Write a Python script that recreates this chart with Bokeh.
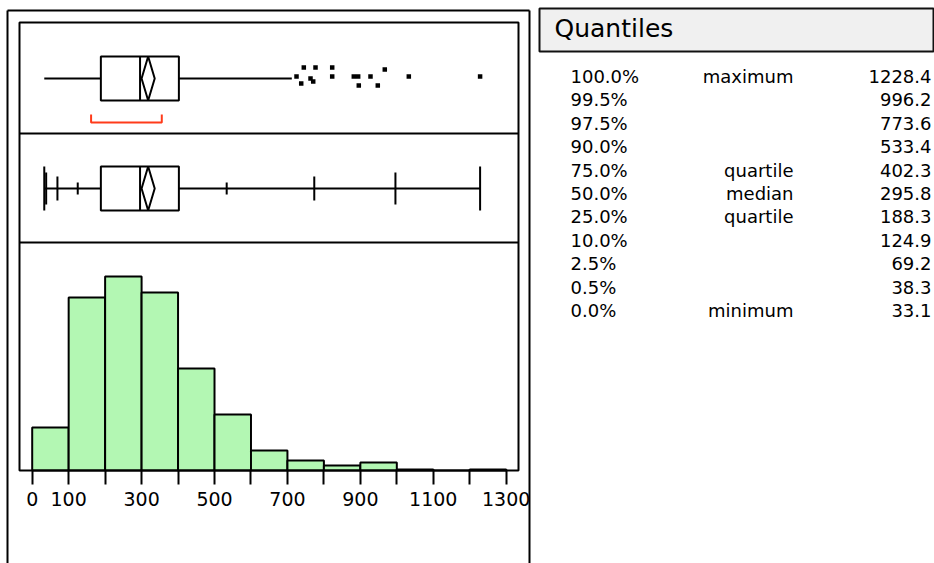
import numpy as np
from bokeh.plotting import figure
from bokeh.models import Range1d, LinearAxis, FixedTicker, ColumnDataSource
from bokeh.embed import file_html
from bokeh.resources import INLINE
from bokeh.core.properties import value

# ---------------- data ----------------
bin_edges = [0, 100, 200, 300, 400, 500, 600, 700, 800, 900, 1000, 1100, 1200, 1300]
bin_counts = [43, 173, 194, 178, 102, 56, 20, 10, 5, 8, 1, 0, 1]

q_levels = ["100.0%", "99.5%", "97.5%", "90.0%", "75.0%", "50.0%",
            "25.0%", "10.0%", "2.5%", "0.5%", "0.0%"]
q_names = ["maximum", "", "", "", "quartile", "median",
           "quartile", "", "", "", "minimum"]
q_values = [1228.4, 996.2, 773.6, 533.4, 402.3, 295.8, 188.3, 124.9, 69.2, 38.3, 33.1]

mean_value = 318.0
mean_ci_half = 18.0
shortest_half = [161.5, 355.4]
upper_adjacent = 712.0

outlier_values = [724.9, 737.8, 744.9, 763.3, 770.7, 777.0, 822.8, 822.8,
                  882.0, 894.0, 895.7, 927.8, 947.8, 967.0, 1032.9, 1228.4]
outlier_jitter = [-2, 5, -11, 0, 3, -11, -11, -2,
                  -2, -2, 7, -2, 7, -9, -2, -2]

axis_ticks = [0, 100, 200, 300, 400, 500, 600, 700, 800, 900, 1000, 1100, 1200, 1300]
axis_labels = ["0", "100", "", "300", "", "500", "", "700", "", "900", "", "1100", "", "1300"]

# ---------------- layout / style constants (screen pixels) ----------------
W, H = 934, 563
PX_ZERO = 31.7                 # screen x of value 0
PX_PER_UNIT = 0.36462          # screen px per data unit
BASE_Y = 470                   # histogram baseline
PX_PER_COUNT = 1.0

PANEL_L, PANEL_R, PANEL_T = 19, 518, 22
SEP1, SEP2 = 133, 242
OUT_L, OUT_R, OUT_T = 7, 529, 10
YC1, YC2 = 78, 188
BOX_H = 22
tick_half = {"100.0%": 22, "0.0%": 22, "99.5%": 16, "0.5%": 16,
             "97.5%": 12, "2.5%": 12, "90.0%": 6, "10.0%": 6}
BRACKET_Y, BRACKET_TOP = 122, 114

FONT = "DejaVu Sans"
GREEN = "#b3f7b3"
RED = "#ff3b1a"
LW = 2

p = figure(width=W, height=H, output_backend="svg", toolbar_location=None,
           x_axis_type=None, y_axis_type=None, min_border=0,
           x_range=Range1d(0, W), y_range=Range1d(H, 0))
p.outline_line_color = None
p.background_fill_color = "white"
p.border_fill_color = "white"

v_start = (0 - PX_ZERO) / PX_PER_UNIT
v_end = (W - PX_ZERO) / PX_PER_UNIT
p.extra_x_ranges = {"val": Range1d(v_start, v_end)}
c_start = (BASE_Y - H) / PX_PER_COUNT
c_end = (BASE_Y - 0) / PX_PER_COUNT
p.extra_y_ranges = {"cnt": Range1d(c_start, c_end)}

# ---------------- histogram ----------------
hist = ColumnDataSource(dict(left=bin_edges[:-1], right=bin_edges[1:],
                             top=bin_counts, bottom=[0] * len(bin_counts)))
p.quad(left="left", right="right", top="top", bottom="bottom", source=hist,
       x_range_name="val", y_range_name="cnt",
       fill_color=GREEN, line_color="black", line_width=LW)

# ---------------- frames ----------------
p.multi_line(xs=[[OUT_L, OUT_L], [OUT_L, OUT_R], [OUT_R, OUT_R]],
             ys=[[H + 5, OUT_T], [OUT_T, OUT_T], [OUT_T, H + 5]],
             line_color="black", line_width=LW)
p.quad(left=[PANEL_L], right=[PANEL_R], top=[PANEL_T], bottom=[BASE_Y],
       fill_color=None, line_color="black", line_width=LW)
p.multi_line(xs=[[PANEL_L, PANEL_R], [PANEL_L, PANEL_R]], ys=[[SEP1, SEP1], [SEP2, SEP2]],
             line_color="black", line_width=LW)

qv = dict(zip(q_levels, q_values))
q1, med, q3 = qv["25.0%"], qv["50.0%"], qv["75.0%"]
vmin, vmax = qv["0.0%"], qv["100.0%"]

def box(yc):
    p.quad(left=[q1], right=[q3], top=[yc - BOX_H], bottom=[yc + BOX_H],
           x_range_name="val", fill_color=None, line_color="black", line_width=LW)
    p.segment(x0=[med], x1=[med], y0=[yc - BOX_H], y1=[yc + BOX_H],
              x_range_name="val", line_color="black", line_width=LW)
    p.patch(x=[mean_value - mean_ci_half, mean_value, mean_value + mean_ci_half, mean_value],
            y=[yc, yc - BOX_H, yc, yc + BOX_H], x_range_name="val",
            fill_color=None, line_color="black", line_width=LW)

# ---------------- outlier box plot ----------------
p.segment(x0=[vmin, q3], x1=[q1, upper_adjacent], y0=[YC1, YC1], y1=[YC1, YC1],
          x_range_name="val", line_color="black", line_width=LW)
box(YC1)
p.scatter(x=outlier_values, y=[YC1 + j for j in outlier_jitter], marker="square",
          size=4.5, x_range_name="val", fill_color="black", line_color=None)
sh0, sh1 = shortest_half
p.multi_line(xs=[[sh0, sh0, sh1, sh1]], ys=[[BRACKET_TOP, BRACKET_Y, BRACKET_Y, BRACKET_TOP]],
             x_range_name="val", line_color=RED, line_width=LW)

# ---------------- quantile box plot ----------------
p.segment(x0=[vmin, q3], x1=[q1, vmax], y0=[YC2, YC2], y1=[YC2, YC2],
          x_range_name="val", line_color="black", line_width=LW)
box(YC2)
tk_x = [qv[k] for k in tick_half]
tk_h = [tick_half[k] for k in tick_half]
p.segment(x0=tk_x, x1=tk_x, y0=[YC2 - h for h in tk_h], y1=[YC2 + h for h in tk_h],
          x_range_name="val", line_color="black", line_width=LW)

# ---------------- x axis ----------------
ax = LinearAxis(x_range_name="val", fixed_location=BASE_Y,
                ticker=FixedTicker(ticks=axis_ticks, minor_ticks=[]),
                major_label_overrides={t: l for t, l in zip(axis_ticks, axis_labels)})
ax.axis_line_color = None
ax.major_tick_in = 0
ax.major_tick_out = 14
ax.major_tick_line_width = LW
ax.minor_tick_line_color = None
ax.major_label_text_font = FONT
ax.major_label_text_font_size = "19px"
ax.major_label_text_color = "black"
ax.major_label_standoff = 7
p.add_layout(ax, "below")

# ---------------- quantile table ----------------
HDR_L, HDR_R, HDR_T, HDR_B = 539, 933, 8, 51
p.quad(left=[HDR_L], right=[HDR_R], top=[HDR_T], bottom=[HDR_B],
       fill_color="#f0f0f0", line_color="#111111", line_width=LW)
p.text(x=[554], y=[28], text=["Quantiles"], text_font=value(FONT),
       text_font_size="25px", text_color="black", text_baseline="middle")

ROW0, ROW_DY = 76, 23.4
COL1, COL2, COL3 = 570, 793, 931
ys = [ROW0 + i * ROW_DY for i in range(len(q_levels))]
p.text(x=[COL1] * len(ys), y=ys, text=q_levels, text_font=value(FONT),
       text_font_size="18px", text_baseline="middle", text_align="left", text_color="black")
p.text(x=[COL2] * len(ys), y=ys, text=q_names, text_font=value(FONT),
       text_font_size="18px", text_baseline="middle", text_align="right", text_color="black")
p.text(x=[COL3] * len(ys), y=ys, text=["%.1f" % v for v in q_values], text_font=value(FONT),
       text_font_size="18px", text_baseline="middle", text_align="right", text_color="black")

open("out.html", "w").write(file_html(p, INLINE))
